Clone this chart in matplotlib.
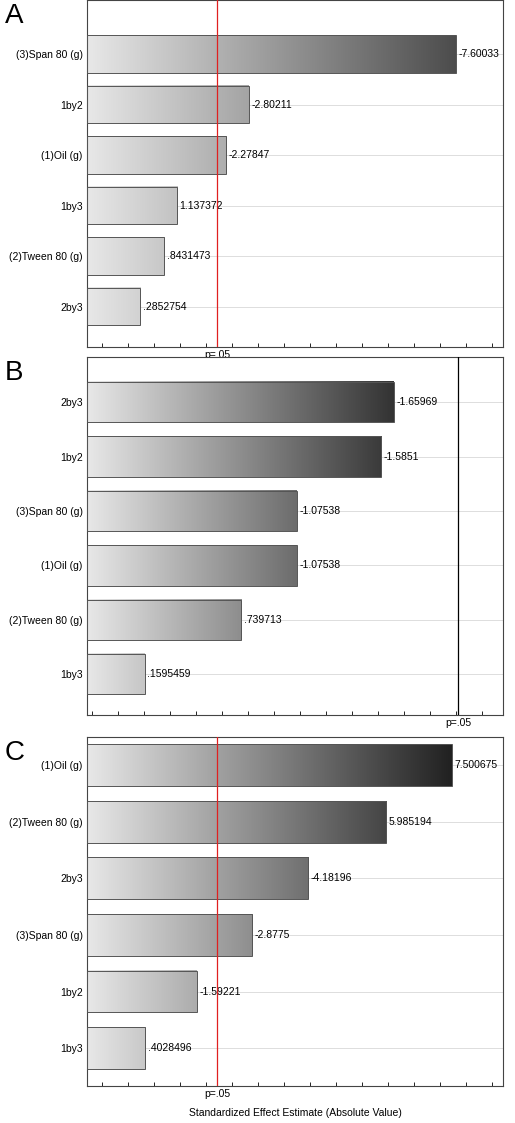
import matplotlib
matplotlib.use("Agg")
import matplotlib.pyplot as plt
import numpy as np
from matplotlib.ticker import MultipleLocator

plt.rcParams['font.family'] = ['Liberation Sans', 'DejaVu Sans']

a_labels = ["(3)Span 80 (g)", "1by2", "(1)Oil (g)", "1by3", "(2)Tween 80 (g)", "2by3"]
a_values = [7.60033, 2.80211, 2.27847, 1.137372, 0.8431473, 0.2852754]
a_text = ["-7.60033", "-2.80211", "-2.27847", "1.137372", ".8431473", ".2852754"]

b_labels = ["2by3", "1by2", "(3)Span 80 (g)", "(1)Oil (g)", "(2)Tween 80 (g)", "1by3"]
b_values = [1.65969, 1.5851, 1.07538, 1.07538, 0.739713, 0.1595459]
b_text = ["-1.65969", "-1.5851", "-1.07538", "-1.07538", ".739713", ".1595459"]

c_labels = ["(1)Oil (g)", "(2)Tween 80 (g)", "2by3", "(3)Span 80 (g)", "1by2", "1by3"]
c_values = [7.500675, 5.985194, 4.18196, 2.8775, 1.59221, 0.4028496]
c_text = ["7.500675", "5.985194", "-4.18196", "-2.8775", "-1.59221", ".4028496"]

pcrit = [2.06, 2.05, 2.06]

W, H = 515, 1123
fig = plt.figure(figsize=(W/100, H/100), dpi=100)

panels = [
    ("A", a_labels, a_values, a_text, (0, 347), (-0.95, 8.69), (5.8, -1.07), "#e02020", 0.30, pcrit[0]),
    ("B", b_labels, b_values, b_text, (357, 715), (-0.19, 2.32), (5.75, -0.83), "#000000", 0.20, pcrit[1]),
    ("C", c_labels, c_values, c_text, (737, 1086), (-0.95, 8.69), (5.67, -0.5), "#e02020", 0.13, pcrit[2]),
]

for letter, labels, vals, texts, (top, bot), xl, yl, pcol, dark, pc in panels:
    ax = fig.add_axes([87/W, 1-bot/H, (503-87)/W, (bot-top)/H])
    ax.set_xlim(*xl)
    ax.set_ylim(*yl)
    x0 = xl[0]
    vmax = max(vals)
    hh = 0.37
    for i, v in enumerate(vals):
        ax.axhline(i, color="#dddddd", lw=0.7, zorder=0)
        grad = np.linspace(0, (v - x0)/(vmax - x0), 256)[None, :]
        shade = 0.91 - (0.91 - dark)*grad
        img = np.dstack([shade, shade, shade])
        ax.imshow(img, extent=[x0, v, i+hh, i-hh], aspect="auto", zorder=2, interpolation="bilinear")
        ax.add_patch(plt.Rectangle((x0, i-hh), v-x0, 2*hh, fill=False, ec="#555555", lw=0.7, zorder=3))
        ax.text(v + (xl[1]-xl[0])*0.006, i, texts[i], va="center", ha="left", fontsize=7.5, zorder=4)
    ax.axvline(pc, color=pcol, lw=0.9, zorder=5)
    ax.set_yticks(range(len(labels)))
    ax.set_yticklabels(labels, fontsize=7.5)
    ax.tick_params(axis="y", length=0, pad=3)
    ax.set_xticks([pc])
    ax.set_xticklabels(["p=.05"], fontsize=7.5)
    span = xl[1]-xl[0]
    ax.xaxis.set_minor_locator(MultipleLocator(span/16))
    ax.tick_params(axis="x", which="major", length=0, pad=2)
    ax.tick_params(axis="x", which="minor", length=3, direction="in")
    for s in ax.spines.values():
        s.set_color("#444444")
        s.set_linewidth(0.8)
    fig.text(5/W, 1-(top+16)/H, letter, fontsize=20, va="center", ha="left")

fig.text(295/W, 1-1113/H, "Standardized Effect Estimate (Absolute Value)", fontsize=7.5, ha="center", va="center")
fig.savefig("out.png", dpi=100)
